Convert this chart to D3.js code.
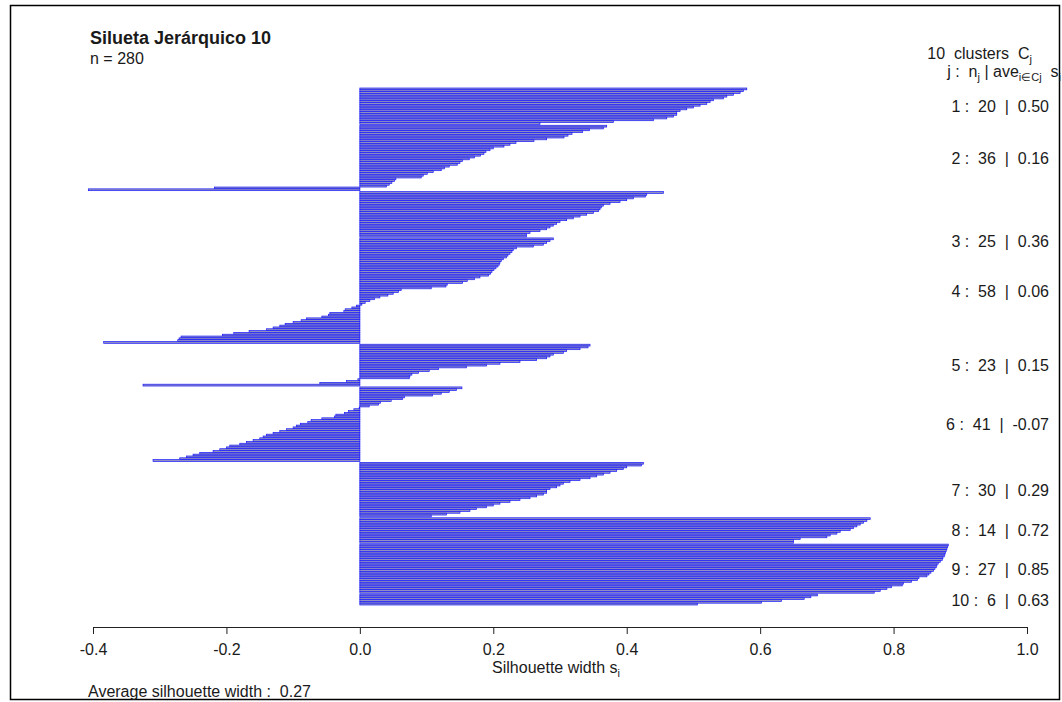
<!DOCTYPE html>
<html>
<head>
<meta charset="utf-8">
<script src="https://cdn.jsdelivr.net/npm/d3@7"></script>
<style>
  body { margin: 0; background: #fff; }
  text { font-family: "Liberation Sans", Arial, Helvetica, sans-serif; fill: #1a1a1a; white-space: pre; }
</style>
</head>
<body>
<svg id="svg"></svg>
<script>

const width = 1062;
const height = 702;

// silhouette widths, one array per cluster, sorted as in the plot (top to bottom)
const clusterIds = [1, 2, 3, 4, 5, 6, 7, 8, 9, 10];
const sil1 = [0.58, 0.575, 0.57, 0.56, 0.55, 0.545, 0.53, 0.525, 0.52, 0.51,
              0.50, 0.49, 0.48, 0.475, 0.475, 0.47, 0.46, 0.44, 0.38, 0.27];
const sil2 = [0.37, 0.365, 0.344, 0.334, 0.318, 0.312, 0.306, 0.28, 0.261, 0.234,
              0.225, 0.216, 0.2, 0.195, 0.189, 0.186, 0.181, 0.172, 0.164, 0.154,
              0.15, 0.146, 0.134, 0.127, 0.122, 0.11, 0.101, 0.095, 0.092, 0.054,
              0.052, 0.048, 0.044, 0.04, -0.218, -0.407];
const sil3 = [0.455, 0.43, 0.428, 0.41, 0.40, 0.39, 0.375, 0.365, 0.362, 0.36,
              0.358, 0.35, 0.34, 0.33, 0.32, 0.31, 0.30, 0.295, 0.29, 0.285,
              0.28, 0.27, 0.255, 0.25, 0.25];
const sil4 = [0.29, 0.285, 0.28, 0.275, 0.26, 0.235, 0.23, 0.228, 0.225, 0.222,
              0.22, 0.215, 0.212, 0.21, 0.209, 0.207, 0.204, 0.201, 0.198, 0.196,
              0.193, 0.18, 0.172, 0.161, 0.154, 0.131, 0.129, 0.107, 0.062, 0.058,
              0.05, 0.042, 0.03, 0.022, 0.015, 0.008, 0.003, -0.005, -0.012, -0.022,
              -0.024, -0.045, -0.047, -0.057, -0.08, -0.088, -0.1, -0.112, -0.12, -0.13,
              -0.14, -0.166, -0.189, -0.206, -0.268, -0.271, -0.273, -0.384];
const sil5 = [0.345, 0.342, 0.33, 0.31, 0.305, 0.29, 0.285, 0.28, 0.265, 0.24,
              0.21, 0.19, 0.16, 0.118, 0.104, 0.088, 0.078, 0.075, 0.074, -0.003,
              -0.02, -0.06, -0.325];
const sil6 = [0.153, 0.145, 0.134, 0.122, 0.109, 0.067, 0.064, 0.047, 0.031, 0.028,
              0.014, -0.001, -0.009, -0.017, -0.023, -0.036, -0.038, -0.057, -0.073, -0.078,
              -0.089, -0.095, -0.10, -0.11, -0.12, -0.13, -0.14, -0.145, -0.15, -0.16,
              -0.17, -0.18, -0.195, -0.2, -0.21, -0.22, -0.24, -0.25, -0.26, -0.27, -0.31];
const sil7 = [0.425, 0.422, 0.40, 0.395, 0.385, 0.375, 0.365, 0.355, 0.345, 0.33,
              0.315, 0.305, 0.30, 0.295, 0.285, 0.28, 0.28, 0.275, 0.265, 0.255,
              0.24, 0.225, 0.21, 0.20, 0.19, 0.175, 0.165, 0.15, 0.13, 0.107];
const sil8 = [0.765, 0.76, 0.755, 0.75, 0.745, 0.74, 0.735, 0.72, 0.715, 0.705,
              0.70, 0.66, 0.65, 0.65];
const sil9 = [0.882, 0.881, 0.880, 0.879, 0.878, 0.877, 0.876, 0.874, 0.873, 0.870,
              0.867, 0.865, 0.864, 0.862, 0.860, 0.856, 0.853, 0.850, 0.838, 0.836,
              0.827, 0.815, 0.813, 0.797, 0.790, 0.780, 0.771];
const sil10 = [0.686, 0.676, 0.666, 0.632, 0.602, 0.506];
const silByCluster = [sil1, sil2, sil3, sil4, sil5, sil6, sil7, sil8, sil9, sil10];

const clusterAve = ["0.50", "0.16", "0.36", "0.06", "0.15", "-0.07", "0.29", "0.72", "0.85", "0.63"];
const xTicks = [-0.4, -0.2, 0.0, 0.2, 0.4, 0.6, 0.8, 1.0];
const avgWidth = "0.27";
const nTotal = 280;
const title = "Silueta Jerárquico 10";

// rows in barplot units, half a bar of space between clusters
let rows = [];
let pos = 0;
silByCluster.forEach(function(vals, k) {
	if (k > 0) pos += 0.5;
	vals.forEach(function(v) {
		rows.push({ cluster: clusterIds[k], value: v, y0: pos });
		pos += 1;
	});
});

const svg = d3.select("#svg")
			.attr("width", width)
			.attr("height", height);

// frame of the screenshot
svg.append("rect")
	.attr("x", 10.5).attr("y", 5.5)
	.attr("width", 1049).attr("height", 694)
	.style("fill", "none")
	.style("stroke", "#000")
	.style("stroke-width", 1.5);

const x = d3.scaleLinear().domain([-0.4, 1.0]).range([93, 1027]);
const y = d3.scaleLinear().domain([0, pos]).range([88, 605]);

const barLayer = svg.append("g").classed("bars", true);

barLayer.selectAll("rect")
	.data(rows)
	.enter().append("rect")
	.attr("x", d => x(Math.min(0, d.value)))
	.attr("y", d => y(d.y0))
	.attr("width", d => Math.abs(x(d.value) - x(0)))
	.attr("height", y(1) - y(0))
	.style("fill", "#8f8fc0")
	.style("stroke", "#1a1aff")
	.style("stroke-width", 0.7);

// x axis
const xAxis = d3.axisBottom(x)
	.tickValues(xTicks)
	.tickFormat(d => d.toFixed(1))
	.tickSize(7)
	.tickSizeOuter(0);

const axisG = svg.append("g")
	.attr("transform", "translate(0,627)")
	.call(xAxis);
axisG.select(".domain").attr("stroke", "#222");
axisG.selectAll(".tick line").attr("stroke", "#222");
axisG.selectAll(".tick text")
	.attr("y", 17)
	.style("font-size", "16px")
	.style("font-family", "'Liberation Sans', Arial, sans-serif")
	.style("fill", "#1a1a1a");

// titles
svg.append("text")
	.attr("x", 90).attr("y", 44)
	.style("font-size", "18px")
	.style("font-weight", "bold")
	.text(title);

svg.append("text")
	.attr("x", 90).attr("y", 64)
	.style("font-size", "16px")
	.text("n = " + nTotal);

const xlab = svg.append("text")
	.attr("x", 556).attr("y", 673)
	.attr("text-anchor", "middle")
	.style("font-size", "16px");
xlab.append("tspan").text("Silhouette width s");
xlab.append("tspan").attr("dy", 4).style("font-size", "11px").text("i");

svg.append("text")
	.attr("x", 88).attr("y", 697)
	.style("font-size", "16px")
	.text("Average silhouette width :  " + avgWidth);

// cluster header
const head1 = svg.append("text")
	.attr("x", 1032).attr("y", 59)
	.attr("text-anchor", "end")
	.style("font-size", "16px");
head1.append("tspan").text(clusterIds.length + "  clusters  C");
head1.append("tspan").attr("dy", 4).style("font-size", "11px").text("j");

const head2 = svg.append("text")
	.attr("x", 1061).attr("y", 77)
	.attr("text-anchor", "end")
	.style("font-size", "16px");
head2.append("tspan").text("j :  n");
head2.append("tspan").attr("dy", 4).style("font-size", "11px").text("j");
head2.append("tspan").attr("dy", -4).text(" | ave");
head2.append("tspan").attr("dy", 4).style("font-size", "11px").text("i\u2208Cj");
head2.append("tspan").attr("dy", -4).text("  s");
head2.append("tspan").attr("dy", 4).style("font-size", "11px").text("i");

// cluster labels at the middle of each block
const labelLayer = svg.append("g").classed("labels", true);
clusterIds.forEach(function(c, k) {
	const r = rows.filter(d => d.cluster === c);
	let mid = d3.mean(r, d => y(d.y0 + 0.5));
	if (c === 3) mid += 27; // R put this one lower in the original
	labelLayer.append("text")
		.attr("x", 1049)
		.attr("y", mid + 6)
		.attr("text-anchor", "end")
		.style("font-size", "16px")
		.text(c + " :  " + r.length + "  |  " + clusterAve[k]);
});

</script>
</body>
</html>
